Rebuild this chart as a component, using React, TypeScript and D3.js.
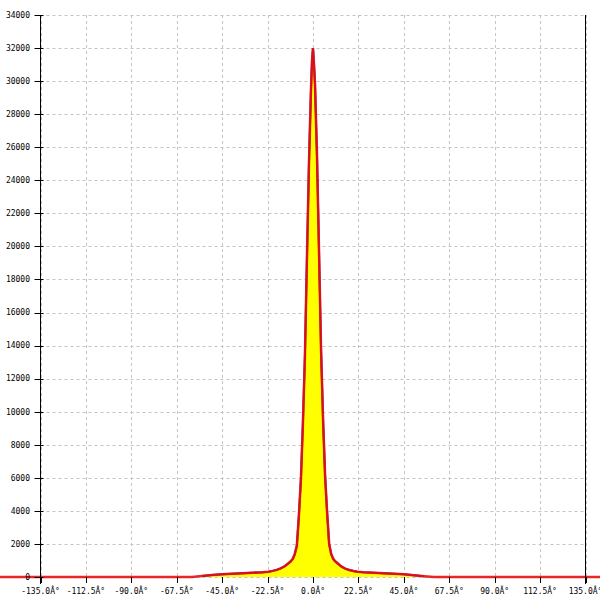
import * as d3 from "d3";

// measured distribution (blue series, with yellow fill)
const angles = [
  -55, -50, -45, -40, -35, -30, -25, -22, -20, -18, -16, -14, -12, -11, -10, -9, -8, -7, -6, -5, -4, -3, -2, -1, -0.5,
  0, 0.5, 1, 2, 3, 4, 5, 6, 7, 8, 9, 10, 11, 12, 14, 16, 18, 20, 22, 25, 30, 35, 40, 45, 50, 55,
];
const counts = [
  60, 120, 170, 200, 230, 260, 290, 320, 370, 430, 520, 650, 850, 950, 1100, 1400, 1900, 3700, 5900, 9300, 13400, 19300, 25000, 29500, 31200,
  32000, 31000, 29800, 25400, 19600, 13700, 9500, 6100, 3900, 2000, 1400, 1100, 950, 850, 640, 510, 420, 360, 320, 290, 260, 230, 200, 160, 110, 50,
];

// red series spans the full circle, zero outside the measured range
const redAngles = [-180, -60, ...angles, 60, 180];
const redCounts = [0, 0, ...counts, 0, 0];

const xTicks = [-135, -112.5, -90, -67.5, -45, -22.5, 0, 22.5, 45, 67.5, 90, 112.5, 135];
const xTickLabels = [
  "-135.0Â°", "-112.5Â°", "-90.0Â°", "-67.5Â°", "-45.0Â°", "-22.5Â°", "0.0Â°",
  "22.5Â°", "45.0Â°", "67.5Â°", "90.0Â°", "112.5Â°", "135.0Â°",
];
const yTicks = d3.range(0, 34001, 2000);

export default function App() {
  const width = 600;
  const height = 600;
  const left = 40.5;
  const right = 585.5;
  const top = 15;
  const bottom = 577;

  const x = d3.scaleLinear().domain([-135, 135]).range([left, right]);
  const y = d3.scaleLinear().domain([0, 34000]).range([bottom, top]);

  const blue = angles.map((a, i) => [a, counts[i]] as [number, number]);
  const red = redAngles.map((a, i) => [a, redCounts[i]] as [number, number]);

  const line = d3
    .line<[number, number]>()
    .x((d) => x(d[0]))
    .y((d) => y(d[1]));
  const area = d3
    .area<[number, number]>()
    .x((d) => x(d[0]))
    .y0(y(0))
    .y1((d) => y(d[1]));

  const font = "'DejaVu Sans Mono', monospace";

  return (
    <svg
      width={width}
      height={height}
      style={{ position: "absolute", left: 0, top: 0, background: "#fff" }}
    >
      {/* grid */}
      <g stroke="#c4c4c4" strokeWidth={1} strokeDasharray="3,3">
        {yTicks.map((t) => (
          <line key={"gy" + t} x1={left} x2={right} y1={Math.round(y(t)) + 0.5} y2={Math.round(y(t)) + 0.5} />
        ))}
        {xTicks.map((t) => (
          <line key={"gx" + t} x1={Math.round(x(t)) + 0.5} x2={Math.round(x(t)) + 0.5} y1={top} y2={bottom} />
        ))}
      </g>

      {/* data */}
      <path d={area(blue) ?? ""} fill="#ffff00" />
      <path d={line(blue) ?? ""} fill="none" stroke="#3a1a9a" strokeWidth={2} />
      <path d={line(red) ?? ""} fill="none" stroke="#e81010" strokeWidth={2.5} strokeOpacity={0.9} />

      {/* left axis */}
      <line x1={left} x2={left} y1={top} y2={bottom + 7} stroke="#000" />
      {yTicks.map((t) => (
        <g key={"ty" + t}>
          <line x1={left - 6} x2={left + 3} y1={Math.round(y(t)) + 0.5} y2={Math.round(y(t)) + 0.5} stroke="#000" />
          <text x={30} y={y(t)} dy="0.35em" textAnchor="end" fontFamily={font} fontSize={8} fill="#000">
            {t}
          </text>
        </g>
      ))}

      {/* right border */}
      <line x1={right} x2={right} y1={top} y2={bottom + 7} stroke="#000" />

      {/* bottom ticks */}
      {xTicks.map((t, i) => (
        <g key={"tx" + t}>
          <line x1={Math.round(x(t)) + 0.5} x2={Math.round(x(t)) + 0.5} y1={bottom} y2={bottom + 6} stroke="#000" />
          <text x={x(t)} y={594} textAnchor="middle" fontFamily={font} fontSize={8} fill="#000">
            {xTickLabels[i]}
          </text>
        </g>
      ))}
    </svg>
  );
}
